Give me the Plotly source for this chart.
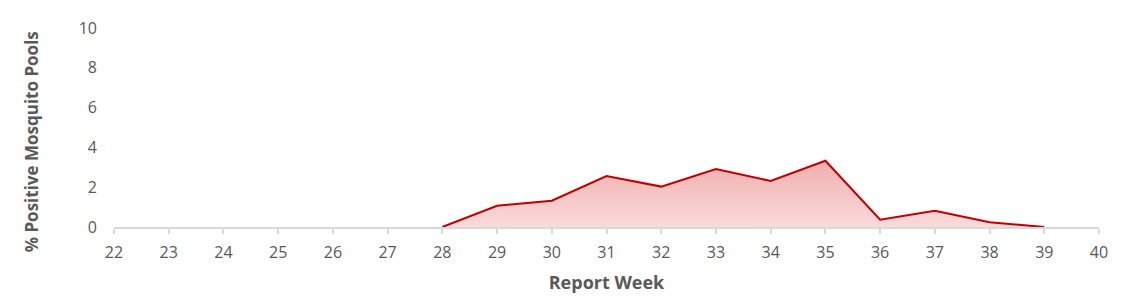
import plotly.graph_objects as go

weeks = [28, 29, 30, 31, 32, 33, 34, 35, 36, 37, 38, 39]
pct_positive = [0, 1.07, 1.32, 2.56, 2.03, 2.91, 2.31, 3.33, 0.37, 0.82, 0.24, 0]
x_ticks = list(range(22, 41))
y_ticks = [0, 2, 4, 6, 8, 10]

FONT = "Open Sans"
GREY = "#595959"

fig = go.Figure()
fig.add_trace(go.Scatter(
    x=weeks, y=pct_positive, mode="lines",
    line=dict(color="#C00000", width=2),
    fill="tozeroy",
    fillgradient=dict(type="vertical",
                      colorscale=[[0, "#fadada"], [1, "#f1aeae"]]),
    hoverinfo="x+y", showlegend=False,
))

fig.add_annotation(
    text="<b>% Positive Mosquito Pools</b>", textangle=-90,
    xref="paper", yref="paper", x=-0.084, y=0.427,
    xanchor="center", yanchor="middle", showarrow=False,
    font=dict(family=FONT, size=17, color=GREY),
)

fig.update_layout(
    width=1121, height=308,
    margin=dict(l=114, r=22, t=28, b=81),
    plot_bgcolor="white", paper_bgcolor="white",
    font=dict(family=FONT, color=GREY, size=16),
    xaxis=dict(
        range=[22, 40], tickmode="array", tickvals=x_ticks,
        showgrid=False, zeroline=False,
        showline=True, linecolor="#d9d9d9", linewidth=2,
        ticks="outside", tickcolor="#d9d9d9", ticklen=5, tickwidth=2,
        ticklabelstandoff=5,
        tickfont=dict(size=16, color=GREY),
        title=dict(text="<b>Report Week</b>", font=dict(size=18, color=GREY), standoff=14),
    ),
    yaxis=dict(
        range=[0, 10], tickmode="array", tickvals=y_ticks,
        showgrid=False, zeroline=False, showline=False,
        tickfont=dict(size=16, color=GREY),
        ticklabelstandoff=16,
    ),
)

fig.write_html("out.html")
